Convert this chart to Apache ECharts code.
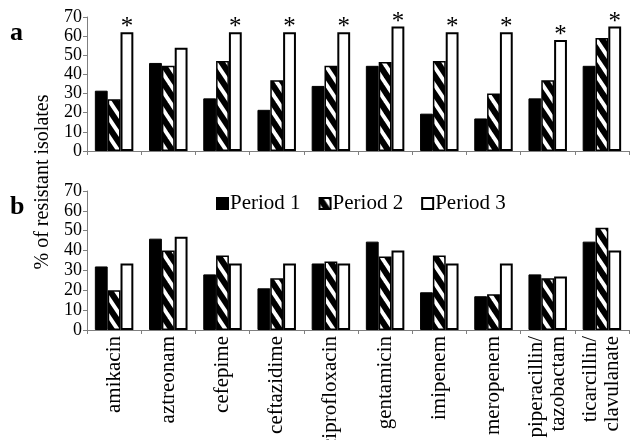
<!DOCTYPE html>
<html><head><meta charset="utf-8">
<script src="https://cdn.jsdelivr.net/npm/echarts@6/dist/echarts.min.js"></script>
<style>html,body{margin:0;padding:0;background:#fff}#c{width:631px;height:440px}</style>
</head><body><div id="c"></div>
<script>
const categories = ['amikacin','aztreonam','cefepime','ceftazidime','ciprofloxacin','gentamicin','imipenem','meropenem','piperacillin/\ntazobactam','ticarcillin/\nclavulanate'];
const periods = ['Period 1','Period 2','Period 3'];
// panel a
const aPeriod1 = [31.5, 46, 27.5, 21.5, 34, 44.5, 19.5, 17, 27.5, 44.5];
const aPeriod2 = [27, 44.5, 47, 37, 44.5, 46.5, 47, 30, 37, 59];
const aPeriod3 = [62, 54, 62, 62, 62, 65, 62, 62, 58, 65];
const aMarks = ['*','','*','*','*','*','*','*','*','*'];
// panel b
const bPeriod1 = [32, 46, 28, 21, 33.5, 44.5, 19, 17, 28, 44.5];
const bPeriod2 = [20, 40, 37.5, 26, 34.5, 37, 37.5, 18, 26, 51.5];
const bPeriod3 = [33.5, 47, 33.5, 33.5, 33.5, 40, 33.5, 33.5, 27, 40];
const yMin = 0, yMax = 70, yStep = 10;

const FONT = '"Liberation Serif", "Times New Roman", serif';

function hatch(){
  const w = 12, h = 18;
  const c = document.createElement('canvas'); c.width = w; c.height = h;
  const g = c.getContext('2d');
  g.fillStyle = '#fff'; g.fillRect(0,0,w,h);
  g.strokeStyle = '#000'; g.lineWidth = 6;
  for (let k = -2; k <= 2; k++) {
    g.beginPath(); g.moveTo(-w, k*h - h); g.lineTo(2*w, k*h + 2*h); g.stroke();
  }
  return c;
}
const hatchFill = { image: hatch(), repeat: 'repeat' };

const chart = echarts.init(document.getElementById('c'), null, {renderer:'canvas'});
const axisLineStyle = { color: '#7f7f7f', width: 1 };

function xAxis(gridIndex, showLabels){
  return {
    type: 'category', gridIndex, data: categories,
    axisLine: { show: true, lineStyle: axisLineStyle },
    axisTick: { show: true, length: 4, interval: 0, lineStyle: axisLineStyle },
    axisLabel: showLabels ? { show: true, rotate: 90, interval: 0, color: '#000', fontFamily: FONT, fontSize: 21, lineHeight: 22, margin: 6 } : { show: false },
    splitLine: { show: false }
  };
}
function yAxis(gridIndex){
  return {
    type: 'value', gridIndex, min: yMin, max: yMax, interval: yStep,
    axisLine: { show: true, lineStyle: axisLineStyle },
    axisTick: { show: true, length: 4, lineStyle: axisLineStyle },
    axisLabel: { color: '#000', fontFamily: FONT, fontSize: 18, margin: 5 },
    splitLine: { show: false }
  };
}
function bars(name, data, idx, style, extra){
  return Object.assign({
    type: 'bar', name, data, xAxisIndex: idx, yAxisIndex: idx,
    barGap: '0%', barCategoryGap: '29%',
    itemStyle: style, emphasis: { disabled: true }, animation: false
  }, extra || {});
}
const s1 = { color: '#000', borderColor: '#000', borderWidth: 1 };
const s2 = { color: hatchFill, borderColor: '#000', borderWidth: 1.5 };
const s3 = { color: '#fff', borderColor: '#000', borderWidth: 2 };

chart.setOption({
  animation: false,
  backgroundColor: '#fff',
  grid: [
    { left: 87, right: 2, top: 17, height: 134, containLabel: false, outerBoundsMode: 'none' },
    { left: 87, right: 2, top: 191, height: 139, containLabel: false, outerBoundsMode: 'none' }
  ],
  legend: {
    data: periods, left: 211, top: 188, itemWidth: 11, itemHeight: 11, itemGap: 18,
    icon: 'rect',
    textStyle: { fontFamily: FONT, fontSize: 21, color: '#000', padding: [0,0,0,-3] }
  },
  xAxis: [ xAxis(0, false), xAxis(1, true) ],
  yAxis: [ yAxis(0), yAxis(1) ],
  graphic: [
    { type: 'text', left: 10, top: 20, style: { text: 'a', font: 'bold 26px ' + FONT, fill: '#000' } },
    { type: 'text', left: 10, top: 194, style: { text: 'b', font: 'bold 26px ' + FONT, fill: '#000' } },
    { type: 'text', x: 43, y: 182, rotation: Math.PI/2,
      style: { text: '% of resistant isolates', font: '20px ' + FONT, fill: '#000', align: 'center', verticalAlign: 'middle' } }
  ],
  series: [
    bars(periods[0], aPeriod1, 0, s1),
    bars(periods[1], aPeriod2, 0, s2),
    bars(periods[2], aPeriod3, 0, s3, {
      label: { show: true, position: 'top', distance: 0, offset: [0, 8], color: '#000', fontFamily: FONT, fontSize: 25,
        formatter: p => aMarks[p.dataIndex] }
    }),
    bars(periods[0], bPeriod1, 1, s1),
    bars(periods[1], bPeriod2, 1, s2),
    bars(periods[2], bPeriod3, 1, s3)
  ]
});
</script></body></html>
